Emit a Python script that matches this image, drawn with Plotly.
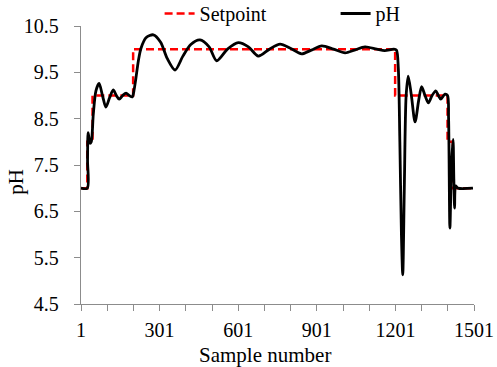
import plotly.graph_objects as go

# Setpoint steps (sample, value) held until next sample
sp_samples = [1, 25, 45, 200, 1200, 1400, 1420, 1500]
sp_values = [7, 8, 9, 10, 9, 8, 7, 7]

# pH response
ph_samples = [1, 25, 26, 28, 31, 35, 40, 48, 58, 70, 83, 96, 110, 124, 136, 147, 160, 173, 185, 197,
              203, 210, 220, 230, 250, 277, 305, 330, 360, 390, 420, 455, 490, 519, 560, 601, 640,
              678, 720, 761, 800, 843, 880, 920, 965, 1009, 1045, 1085, 1130, 1160, 1195, 1205,
              1212, 1218, 1224, 1229, 1235, 1242, 1250, 1262, 1276, 1290, 1301, 1314, 1327, 1341,
              1355, 1365, 1374, 1390, 1400, 1404, 1409, 1415, 1421, 1424, 1427, 1431, 1440, 1497]
ph_values = [7.0, 7.0, 7.6, 8.2, 8.1, 7.97, 8.0, 8.6, 9.1, 9.26, 9.0, 8.75, 8.95, 9.12, 9.0, 8.92, 9.0, 9.05, 9.0, 8.97,
             9.1, 9.35, 9.75, 10.02, 10.25, 10.31, 10.15, 9.8, 9.55, 9.85, 10.1, 10.2, 10.05, 9.75, 10.0, 10.14, 10.05,
             9.85, 10.0, 10.11, 10.02, 9.9, 9.98, 10.07, 10.0, 9.92, 9.98, 10.05, 10.0, 9.97, 10.0, 9.98,
             9.6, 8.0, 6.0, 5.13, 7.0, 9.0, 9.42, 9.0, 8.43, 8.9, 9.19, 9.0, 8.84, 9.0,
             9.1, 9.0, 8.92, 9.03, 9.0, 8.5, 6.14, 7.5, 8.05, 7.2, 6.57, 7.05, 7.0, 7.0]

x_tickvals = [1, 301, 601, 901, 1201, 1501]
y_tickvals = [4.5, 5.5, 6.5, 7.5, 8.5, 9.5, 10.5]

x_title = "Sample number"
y_title = "pH"

FONT = "Liberation Serif"

fig = go.Figure()
fig.add_trace(go.Scatter(x=sp_samples, y=sp_values, mode="lines", name="Setpoint",
                         line=dict(color="#ff0000", width=2.5, dash="8px,4px", shape="hv")))
fig.add_trace(go.Scatter(x=ph_samples, y=ph_values, mode="lines", name="pH",
                         line=dict(color="#000000", width=2.8, shape="spline", smoothing=0.8)))

axis_common = dict(showgrid=False, zeroline=False, showline=True, linecolor="#8c8c8c", linewidth=1.3,
                   ticks="outside", tickcolor="#8c8c8c", tickwidth=1.3,
                   tickfont=dict(family=FONT, size=20, color="black"))

fig.update_xaxes(range=[1, 1501], tickvals=x_tickvals, ticklen=6, ticklabelstandoff=2,
                 minor=dict(dtick=100, tick0=1, ticks="outside", ticklen=6, tickcolor="#8c8c8c", tickwidth=1.3),
                 **axis_common)
fig.update_yaxes(range=[4.5, 10.5], tickvals=y_tickvals, ticklen=6, ticklabelstandoff=11,
                 **axis_common)

# Axis titles as annotations (placed slightly off-centre like the reference)
fig.add_annotation(text=x_title, xref="paper", yref="paper", x=0.468, y=-0.182,
                   xanchor="center", yanchor="middle", showarrow=False,
                   font=dict(family=FONT, size=21, color="black"))
fig.add_annotation(text=y_title, xref="paper", yref="paper", x=-0.165, y=0.44,
                   xanchor="center", yanchor="middle", showarrow=False, textangle=-90,
                   font=dict(family=FONT, size=21, color="black"))

fig.update_layout(
    width=497, height=367,
    margin=dict(l=81, r=23, t=26, b=63, autoexpand=False),
    paper_bgcolor="white", plot_bgcolor="white",
    showlegend=True,
    legend=dict(orientation="h", x=0.2, xanchor="left", y=1.045, yanchor="middle",
                font=dict(family=FONT, size=20, color="black"), bgcolor="rgba(0,0,0,0)",
                entrywidth=131, traceorder="normal"),
)

fig.write_html("out.html")
